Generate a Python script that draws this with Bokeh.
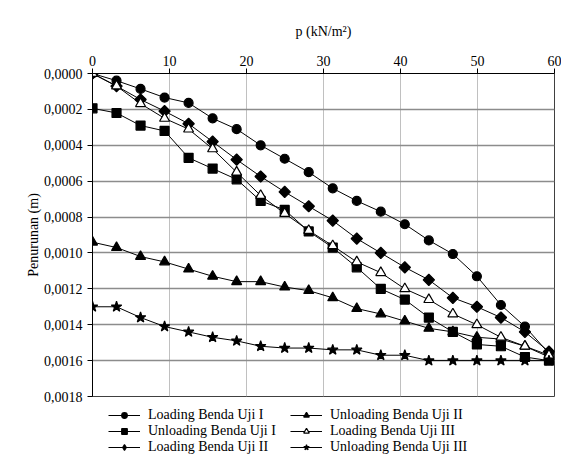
import math
from bokeh.plotting import figure
from bokeh.layouts import column
from bokeh.models import Range1d, FixedTicker, CustomJSTickFormatter, Legend, LegendItem
from bokeh.embed import file_html
from bokeh.resources import INLINE

# ---- data ----
p_load = [0, 3.12, 6.24, 9.36, 12.48, 15.6, 18.72, 21.84, 24.96, 28.08,
          31.2, 34.32, 37.44, 40.56, 43.68, 46.8, 49.92, 53.04, 56.16, 59.28]

loading_1 = [0.0, 0.00004, 0.000086, 0.000134, 0.000164, 0.00025, 0.00031, 0.0004, 0.000475, 0.00055,
             0.00064, 0.00071, 0.00077, 0.00084, 0.00093, 0.001006, 0.00113, 0.00129, 0.00141, 0.00156]
unloading_1 = [0.000194, 0.00022, 0.00029, 0.00032, 0.00047, 0.00053, 0.00059, 0.00071, 0.00076, 0.000880,
               0.00097, 0.00108, 0.0012, 0.00126, 0.00136, 0.00144, 0.00151, 0.00152, 0.00158, 0.0016]
loading_2 = [0.0, 0.00007, 0.000145, 0.00021, 0.00028, 0.00038, 0.00048, 0.000574, 0.00066, 0.00074,
             0.00082, 0.00092, 0.001, 0.00108, 0.00115, 0.00125, 0.0013, 0.00136, 0.00144, 0.00155]
unloading_2 = [0.00094, 0.00097, 0.00102, 0.00105, 0.00109, 0.00113, 0.00116, 0.00116, 0.00119, 0.00121,
               0.00125, 0.00131, 0.00134, 0.00138, 0.00142, 0.00144, 0.00147, 0.00148, 0.00152, 0.00158]
loading_3 = [0.0, 0.00007, 0.000168, 0.00025, 0.00031, 0.00042, 0.00055, 0.00068, 0.00078, 0.000875,
             0.00096, 0.00105, 0.00111, 0.0012, 0.00126, 0.00134, 0.0014, 0.00147, 0.00152, 0.00157]
unloading_3 = [0.0013, 0.0013, 0.00136, 0.00141, 0.00144, 0.00147, 0.00149, 0.00152, 0.00153, 0.00153,
               0.00154, 0.00154, 0.00157, 0.00157, 0.0016, 0.0016, 0.0016, 0.0016, 0.0016, 0.0016]

x_ticks = [0, 10, 20, 30, 40, 50, 60]
y_ticks = [0.0, 0.0002, 0.0004, 0.0006, 0.0008, 0.0010, 0.0012, 0.0014, 0.0016, 0.0018]

labels = ["Loading Benda Uji I", "Unloading Benda Uji I", "Loading Benda Uji II",
          "Unloading Benda Uji II", "Loading Benda Uji III", "Unloading Benda Uji III"]

FONT = "'Liberation Serif', 'Times New Roman', serif"

p = figure(width=561, height=404, output_backend="svg", toolbar_location=None,
           x_range=Range1d(0, 60), y_range=Range1d(0.0018, 0),
           x_axis_location="above",
           min_border_left=92, min_border_right=7, min_border_top=73, min_border_bottom=8)
p.background_fill_color = "white"
p.border_fill_color = "white"
p.outline_line_color = "#404040"
p.outline_line_width = 1

# axes
xa = p.xaxis[0]
xa.ticker = FixedTicker(ticks=x_ticks)
xa.axis_label = "p (kN/m\u00b2)"
ya = p.yaxis[0]
ya.ticker = FixedTicker(ticks=y_ticks)
ya.formatter = CustomJSTickFormatter(code="return tick.toFixed(4).replace('.', ',');")
ya.axis_label = "Penurunan (m)"
for ax in (xa, ya):
    ax.axis_label_text_font = FONT
    ax.axis_label_text_font_size = "14px"
    ax.axis_label_text_font_style = "normal"
    ax.axis_label_text_color = "black"
    ax.major_label_text_font = FONT
    ax.major_label_text_font_size = "14px"
    ax.major_label_text_color = "black"
    ax.axis_line_color = "black"
    ax.major_tick_line_color = "black"
    ax.major_tick_out = 5
    ax.major_tick_in = 0
    ax.minor_tick_line_color = None
    ax.major_label_standoff = 5
xa.major_label_standoff = 3
xa.axis_label_standoff = 14
ya.axis_label_standoff = 0

p.xgrid.ticker = FixedTicker(ticks=x_ticks)
p.ygrid.ticker = FixedTicker(ticks=y_ticks)
p.xgrid.grid_line_color = "#c0c0c0"
p.xgrid.grid_line_width = 1
p.ygrid.grid_line_color = "#8c8c8c"
p.ygrid.grid_line_width = 1.5

series = [
    (loading_1, "circle", 9, "black", 0),
    (unloading_1, "square", 9, "black", 0),
    (loading_2, "square", 8, "black", math.pi / 4),
    (unloading_2, "triangle", 10, "black", 0),
    (loading_3, "triangle", 10, "white", 0),
    (unloading_3, "star", 11, "black", 0),
]
legend_markers = [("circle", 8), ("square", 8), ("diamond", 12),
                  ("triangle", 9), ("triangle", 9), ("star", 10)]

for (vals, marker, size, fill, ang) in series:
    p.line(p_load, vals, line_color="black", line_width=1)
    p.scatter(p_load, vals, marker=marker, size=size, fill_color=fill,
              line_color="black", line_width=1.2, angle=ang)

# ---- legend strip below the chart ----
q = figure(width=561, height=56, output_backend="svg", toolbar_location=None,
           x_range=Range1d(0, 1), y_range=Range1d(0, 1),
           min_border_left=0, min_border_right=0, min_border_top=0, min_border_bottom=0)
q.axis.visible = False
q.grid.visible = False
q.outline_line_color = None
q.background_fill_color = "white"
q.border_fill_color = "white"

items = []
for (vals, marker, size, fill, ang), (lm, ls), lab in zip(series, legend_markers, labels):
    lr = q.line([-5, -4], [-5, -5], line_color="black", line_width=1)
    sr = q.scatter([-5], [-5], marker=lm, size=ls, fill_color=fill,
                   line_color="black", line_width=1.2)
    items.append(LegendItem(label=lab, renderers=[lr, sr]))

lg = Legend(items=items, location=(16, 5), ncols=2)
lg.label_text_font = FONT
lg.label_text_font_size = "14px"
lg.label_text_color = "black"
lg.glyph_width = 32
lg.glyph_height = 14
lg.label_height = 14
lg.label_width = 142
lg.label_standoff = 8
lg.spacing = 0
lg.padding = 0
lg.margin = 0
lg.border_line_color = None
lg.background_fill_alpha = 0
q.add_layout(lg, "center")

layout = column(p, q, spacing=0)
open("out.html", "w").write(file_html(layout, INLINE))
